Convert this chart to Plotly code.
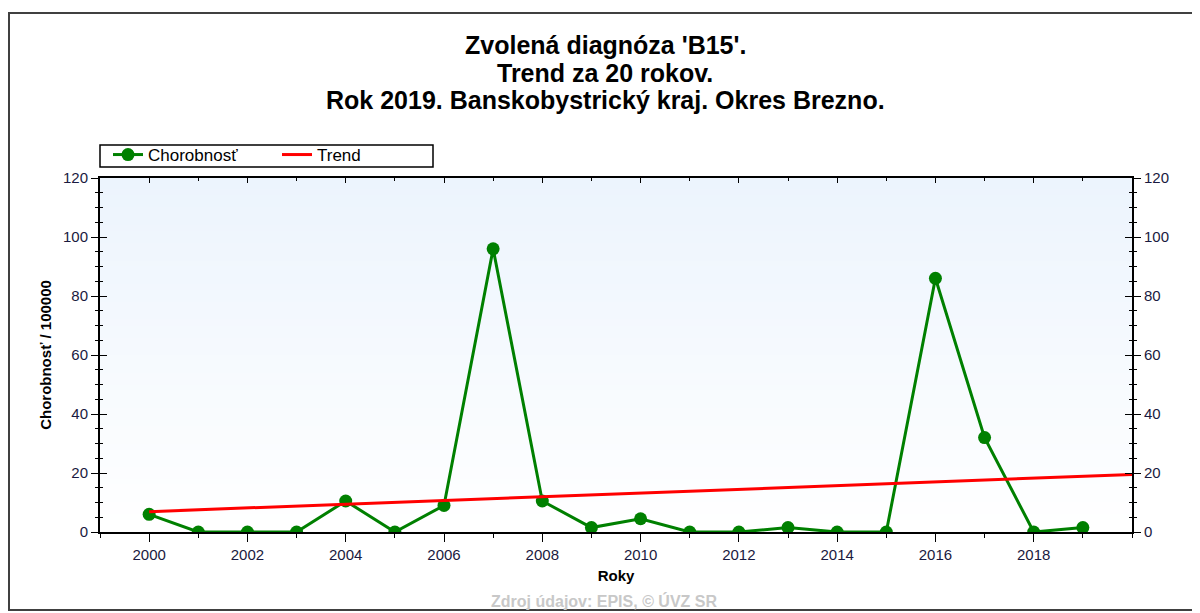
import plotly.graph_objects as go

years = list(range(2000, 2020))
chorobnost = [6.0, 0, 0, 0, 10.5, 0, 9.0, 96.0, 10.5, 1.5,
              4.5, 0, 0, 1.5, 0, 0, 86.0, 32.0, 0, 1.5]
trend_years = [2000, 2020]
trend_values = [6.9, 19.5]
x_tickvals = list(range(2000, 2019, 2))
y_tickvals = [0, 20, 40, 60, 80, 100, 120]

title_lines = ["Zvolená diagnóza 'B15'.",
               "Trend za 20 rokov.",
               "Rok 2019. Banskobystrický kraj. Okres Brezno."]
y_title = "Chorobnosť / 100000"
x_title = "Roky"
source_text = "Zdroj údajov: EPIS, © ÚVZ SR"

FONT = "Liberation Sans, Arial, sans-serif"
TICKC = "#1a1a40"

# figure geometry (the page shows the figure offset by the 8px body margin)
W, H = 1192, 605
L, R, T, B = 92, 68, 170, 81
PW, PH = W - L - R, H - T - B


def px(xf):
    return (xf - L) / PW


def py(yf):
    return (H - B - yf) / PH


fig = go.Figure()
fig.add_trace(go.Scatter(
    x=years, y=chorobnost, name="Chorobnosť", mode="lines+markers",
    line=dict(color="#008000", width=3),
    marker=dict(color="#008000", size=13, symbol="circle"),
))
fig.add_trace(go.Scatter(
    x=trend_years, y=trend_values, name="Trend", mode="lines",
    line=dict(color="#ff0000", width=3),
))

shapes = []
N = 60
top = (236, 244, 253)
bot = (255, 255, 255)
for i in range(N):
    f = i / (N - 1)
    c = tuple(round(bot[k] + (top[k] - bot[k]) * f) for k in range(3))
    shapes.append(dict(type="rect", xref="x domain", yref="y domain",
                       x0=0, x1=1, y0=i / N, y1=(i + 1) / N + 0.002,
                       fillcolor="rgb(%d,%d,%d)" % c, line=dict(width=0),
                       layer="below"))
# outer frame
shapes.append(dict(type="rect", xref="paper", yref="paper",
                   x0=px(1), x1=1.2, y0=py(602), y1=py(5),
                   line=dict(color="#404040", width=2), fillcolor="rgba(0,0,0,0)"))
# legend frame
shapes.append(dict(type="rect", xref="paper", yref="paper",
                   x0=px(92), x1=px(425), y0=py(159), y1=py(137),
                   line=dict(color="#000", width=1.5), fillcolor="white",
                   layer="below"))

annotations = []
for i, line in enumerate(title_lines):
    annotations.append(dict(text="<b>" + line + "</b>", xref="paper", yref="paper",
                            x=px(597), y=py(37 + i * 27.5), xanchor="center",
                            yanchor="middle", showarrow=False,
                            font=dict(size=25, family=FONT, color="#000")))
annotations.append(dict(text="<b>" + source_text + "</b>", xref="paper", yref="paper",
                        x=px(596), y=py(593), xanchor="center", yanchor="middle",
                        showarrow=False,
                        font=dict(size=16, color="#c8c8c8", family=FONT)))

axis_common = dict(showgrid=False, zeroline=False, tickcolor="#000", tickwidth=1)

fig.update_layout(
    width=W, height=H,
    margin=dict(l=L, r=R, t=T, b=B, pad=0),
    paper_bgcolor="white", plot_bgcolor="rgba(0,0,0,0)",
    font=dict(family=FONT, color="#000"),
    showlegend=True,
    legend=dict(orientation="h", x=px(100), xanchor="left", y=py(129), yanchor="top",
                borderwidth=0, bgcolor="rgba(0,0,0,0)",
                font=dict(size=17, family=FONT, color="#000"),
                entrywidth=124, entrywidthmode="pixels", itemclick=False,
                tracegroupgap=0),
    shapes=shapes,
    annotations=annotations,
    xaxis=dict(range=[1999, 2020], tickmode="array", tickvals=x_tickvals,
               ticks="outside", ticklen=8,
               showline=True, linecolor="#000", linewidth=2,
               tickfont=dict(size=15, color=TICKC),
               minor=dict(dtick=1, tick0=2000, ticks="outside", ticklen=4, tickcolor="#000"),
               title=dict(text="<b>" + x_title + "</b>", font=dict(size=15, color="#000"), standoff=8),
               **axis_common),
    xaxis2=dict(range=[1999, 2020], overlaying="x", side="top", anchor="y",
                tickmode="array", tickvals=x_tickvals, ticks="inside", ticklen=5,
                showticklabels=False, showline=True, linecolor="#000", linewidth=2,
                minor=dict(dtick=1, tick0=2000, ticks="inside", ticklen=3, tickcolor="#000"),
                **axis_common),
    yaxis=dict(range=[0, 120], tickmode="array", tickvals=y_tickvals,
               ticks="outside", ticklen=7,
               showline=True, linecolor="#000", linewidth=2,
               tickfont=dict(size=15, color=TICKC),
               minor=dict(dtick=5, ticks="outside", ticklen=3, tickcolor="#000"),
               title=dict(text="<b>" + y_title + "</b>", font=dict(size=15, color="#000"), standoff=8),
               **axis_common),
    yaxis2=dict(range=[0, 120], overlaying="y", side="right", anchor="x",
                tickmode="array", tickvals=y_tickvals, ticks="outside", ticklen=7,
                showline=True, linecolor="#000", linewidth=2,
                tickfont=dict(size=15, color=TICKC),
                minor=dict(dtick=5, ticks="outside", ticklen=3, tickcolor="#000"),
                **axis_common),
    yaxis3=dict(range=[0, 120], overlaying="y", side="left", anchor="x",
                tickmode="array", tickvals=y_tickvals, ticks="inside", ticklen=7,
                showticklabels=False,
                minor=dict(dtick=5, ticks="inside", ticklen=3, tickcolor="#000"),
                **axis_common),
    yaxis4=dict(range=[0, 120], overlaying="y", side="right", anchor="x",
                tickmode="array", tickvals=y_tickvals, ticks="inside", ticklen=7,
                showticklabels=False,
                minor=dict(dtick=5, ticks="inside", ticklen=3, tickcolor="#000"),
                **axis_common),
)

for xa, ya in [("x2", "y"), ("x", "y2"), ("x", "y3"), ("x", "y4")]:
    fig.add_trace(go.Scatter(x=[None], y=[None], xaxis=xa, yaxis=ya,
                             showlegend=False, hoverinfo="skip"))

fig.write_html("out.html")
